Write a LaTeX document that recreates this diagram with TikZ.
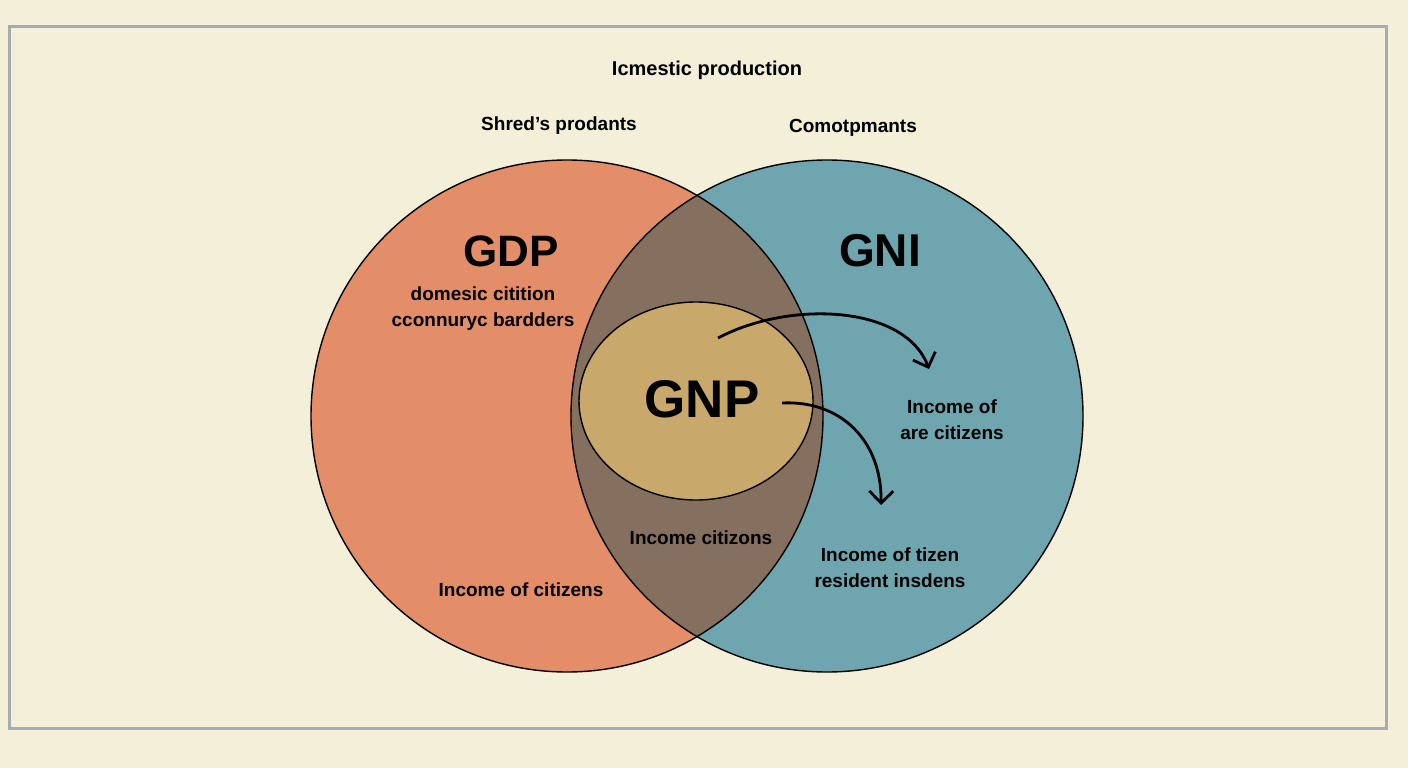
\documentclass[tikz,border=0pt]{standalone}
\usepackage{fontspec}
\setmainfont{Liberation Sans}
\usetikzlibrary{arrows.meta}
\definecolor{bg}{HTML}{F3EFD8}
\definecolor{frame}{HTML}{A8ACAE}
\definecolor{gdpc}{HTML}{E38E68}
\definecolor{gnic}{HTML}{6FA5AF}
\definecolor{lensc}{HTML}{857060}
\definecolor{gnpc}{HTML}{C9A86B}
\tikzset{
  lbl/.style={font=\bfseries\fontsize{19}{26}\selectfont, text=black, align=center, inner sep=0pt},
  big/.style={font=\bfseries\fontsize{46}{50}\selectfont, text=black, inner sep=0pt},
  outline/.style={draw=black, line width=1.4pt},
  flow/.style={line width=2.8pt, -{Straight Barb[length=12pt,width=24pt,line width=2.8pt]}}
}
\begin{document}
\begin{tikzpicture}[x=1pt,y=-1pt]
\useasboundingbox (0,0) rectangle (1408,768);
\fill[bg] (0,0) rectangle (1408,768);
\draw[frame, line width=3pt] (9.5,27) rectangle (1386,728.5);
% circles
\fill[gdpc] (567,416) circle[radius=256];
\fill[gnic] (827,416) circle[radius=256];
\begin{scope}
  \clip (567,416) circle[radius=256];
  \fill[lensc] (827,416) circle[radius=256];
\end{scope}
\draw[outline] (567,416) circle[radius=256];
\draw[outline] (827,416) circle[radius=256];
\fill[gnpc, draw=black, line width=1.4pt] (696,401) ellipse[x radius=117, y radius=99];
% texts
\node[lbl, font=\bfseries\fontsize{20}{24}\selectfont] (title) at (707,70) {Icmestic production};
\node[lbl] (shred) at (559,126) {Shred’s prodants};
\node[lbl] (comot) at (853,128) {Comotpmants};
\node[big, font=\bfseries\fontsize{44}{48}\selectfont] (gdp) at (511,251) {GDP};
\node[big] (gni) at (880,251) {GNI};
\node[big, font=\bfseries\fontsize{53}{56}\selectfont] (gnp) at (702,399) {GNP};
\node[lbl] (dom) at (483,309) {domesic citition\\cconnuryc bardders};
\node[lbl] (incof) at (952,420) {Income of\\are citizens};
\node[lbl] (incc) at (701,538) {Income citizons};
\node[lbl] (inct) at (890,568) {Income of tizen\\resident insdens};
\node[lbl] (incl) at (521,590) {Income of citizens};
% arrows
\coordinate (a1s) at (718,338);
\coordinate (a1e) at (929,369);
\coordinate (a2s) at (782,403);
\coordinate (a2e) at (881,505);
\draw[flow] (a1s) .. controls (790,300) and (905,305) .. (a1e);
\draw[flow] (a2s) .. controls (840,400) and (882,440) .. (a2e);
\end{tikzpicture}
\end{document}
